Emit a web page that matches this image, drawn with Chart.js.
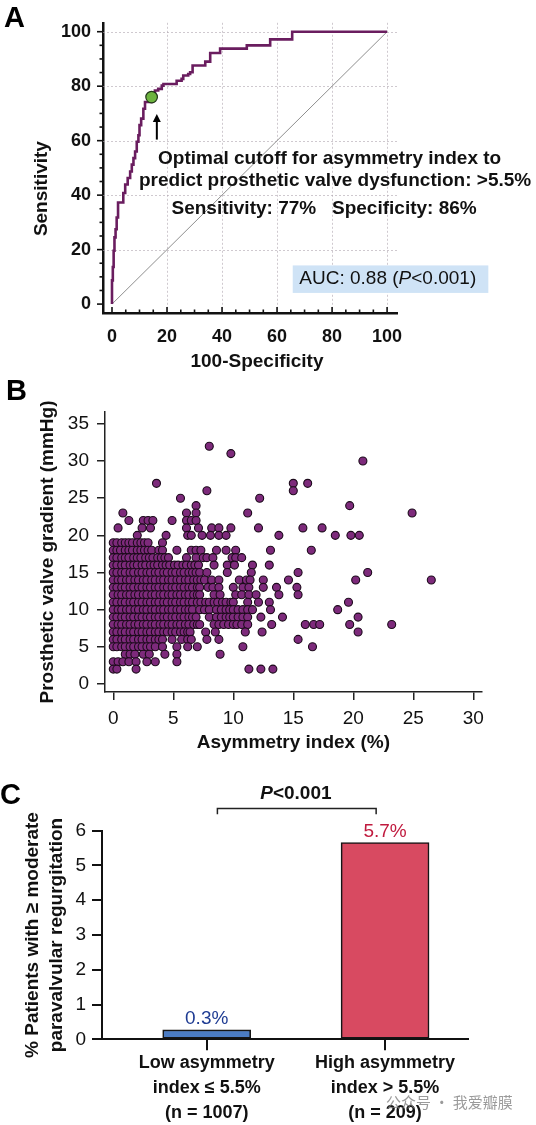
<!DOCTYPE html>
<html><head><meta charset="utf-8">
<script src="https://cdn.jsdelivr.net/npm/chart.js@4.4.1/dist/chart.umd.min.js"></script>
<style>
html,body{margin:0;padding:0;background:#fff;width:536px;height:1125px;overflow:hidden;position:relative;font-family:"Liberation Sans",Arial,sans-serif}
.wrap{position:absolute;left:0;width:536px}
.panel{position:absolute;font-weight:bold;font-size:29px;line-height:29px;color:#000;font-family:"Liberation Sans",Arial,sans-serif}
.wm{position:absolute;left:386px;top:1092px;font-family:"Noto Sans CJK SC",sans-serif;font-size:15px;line-height:20px;color:rgba(120,120,120,0.75);white-space:nowrap}
</style></head><body>
<div class="wrap" style="top:0;height:378px"><canvas id="ca" width="536" height="378"></canvas></div>
<div class="wrap" style="top:375px;height:390px"><canvas id="cb" width="536" height="390"></canvas></div>
<div class="wrap" style="top:765px;height:360px"><canvas id="cc" width="536" height="360"></canvas></div>
<div class="panel" style="left:4px;top:3px">A</div>
<div class="panel" style="left:6px;top:376px">B</div>
<div class="panel" style="left:0px;top:780px">C</div>
<div class="wm">公众号 · 我爱瓣膜</div>
<script>
// ---------- Panel A data (ROC curve) ----------
const rocFpr = [0,0.3,0.6,0.9,1.3,1.7,2.2,4.1,4.8,5.7,6.6,7.2,7.8,8.4,9.0,9.6,10.0,10.6,11.4,12.0,14.4,15.6,16.8,18.1,18.7,23.5,25.3,25.9,27.7,28.4,29.3,33.9,35.7,39.3,49.0,57.5,65.5,100];
const rocTpr = [0,8.7,13.6,19.6,24.5,27.5,31.8,37.3,40.8,43.9,46.3,48.7,51.2,53.6,56.0,59.6,62.0,65.7,68.1,71.7,74.2,77.2,78.4,79.0,80.2,80.8,82.0,82.7,83.9,84.5,85.1,87.6,89.0,92.2,93.8,95.0,97.2,100];
const refLineX = [0,100];
const refLineY = [0,100];
const cutoffX = 14.4, cutoffY = 76;
const ticksA = [0,20,40,60,80,100];

// ---------- Panel B data (scatter; gradient level -> asymmetry index values) ----------
const gradientLevels = [32,31,30,27,26,25,24,23,22,21,20,19,18,17,16,15,14,13,12,11,10,9,8,7,6,5,4,3,2];
const asymmetryAtLevel = [
 [8.0],
 [9.8],
 [20.8],
 [3.6,15.0,16.2],
 [7.8,15.0],
 [5.6,12.2],
 [6.9,19.7],
 [0.8,6.1,6.9,11.2,24.9],
 [1.3,2.5,2.9,3.3,4.9,6.1,6.5,6.9],
 [0.4,2.4,3.1,6.1,7.1,8.2,8.8,9.8,12.1,15.8,17.4],
 [2.0,4.4,6.2,6.5,7.4,8.1,8.8,9.4,13.8,18.5,19.8,20.5],
 [0,0.3,0.7,1.0,1.3,1.6,2.0,2.3,2.6,2.9,4.1],
 [0,0.3,0.6,1.0,1.3,1.6,2.0,2.3,2.6,2.9,3.2,3.8,4.1,5.3,6.5,6.9,7.3,8.6,9.4,10.2,13.1,16.5],
 [0,0.3,0.7,1.0,1.3,1.7,2.0,2.3,2.7,3.0,3.3,3.7,4.0,4.3,4.6,6.1,6.9,7.5,7.8,8.3,9.9,10.2,10.7],
 [0,0.3,0.7,1.0,1.4,1.7,2.0,2.4,2.7,3.1,3.4,3.7,4.1,4.4,4.7,5.1,5.4,5.8,6.1,6.5,6.8,7.1,8.4,9.5,10.1,11.6,13.0],
 [0,0.3,0.7,1.0,1.4,1.7,2.1,2.4,2.8,3.1,3.5,3.8,4.2,4.5,4.9,5.2,5.6,5.9,6.3,6.6,6.9,7.2,7.8,9.5,11.5,15.4,21.2],
 [0,0.4,0.7,1.1,1.4,1.8,2.1,2.5,2.8,3.2,3.5,3.9,4.2,4.6,4.9,5.3,5.6,6.0,6.3,6.7,7.0,7.3,7.6,8.2,8.8,10.5,11.1,11.4,12.5,14.6,20.2,26.5],
 [0,0.3,0.7,1.0,1.4,1.7,2.1,2.4,2.8,3.1,3.5,3.8,4.2,4.5,4.9,5.2,5.6,5.9,6.3,6.6,7.0,7.2,7.9,8.3,8.8,10.0,10.8,11.3,12.5,13.6,15.3],
 [0,0.4,0.7,1.1,1.4,1.8,2.1,2.5,2.8,3.2,3.5,3.9,4.2,4.6,4.9,5.3,5.6,6.0,6.3,6.7,7.0,7.2,8.4,8.9,10.2,10.7,11.3,11.9,13.8,15.4],
 [0,0.3,0.7,1.0,1.4,1.7,2.1,2.4,2.8,3.1,3.5,3.8,4.2,4.5,4.9,5.2,5.6,5.9,6.3,6.6,7.0,7.3,7.7,8.0,8.4,8.7,9.1,9.4,9.8,10.0,11.2,12.1,13.0,19.6],
 [0,0.4,0.7,1.1,1.4,1.8,2.1,2.5,2.8,3.2,3.5,3.9,4.2,4.6,4.9,5.3,5.6,6.0,6.3,6.6,7.2,7.6,8.0,8.6,9.0,9.4,9.7,10.0,10.4,10.8,11.2,11.6,13.1,18.7],
 [0,0.3,0.7,1.0,1.4,1.7,2.1,2.4,2.8,3.1,3.5,3.8,4.2,4.5,4.9,5.2,5.6,5.9,6.3,6.6,6.9,8.0,8.6,9.0,9.4,9.7,10.0,10.4,10.8,11.2,12.3,14.1,20.4],
 [0,0.4,0.7,1.1,1.4,1.8,2.1,2.5,2.8,3.2,3.5,3.9,4.2,4.6,4.9,5.3,5.6,6.0,6.3,6.7,7.0,7.2,8.4,8.8,9.2,9.6,10.0,10.3,10.7,11.2,13.2,16.0,16.7,17.2,19.7,23.2],
 [0,0.3,0.7,1.0,1.4,1.7,2.1,2.4,2.8,3.1,3.5,3.8,4.2,4.5,4.9,5.2,5.6,5.9,6.2,6.4,7.7,8.5,11.0,12.4,20.4],
 [0,0.3,0.7,1.0,1.4,1.7,2.1,2.4,2.8,3.1,3.5,3.8,4.1,4.9,5.7,6.2,6.5,7.8,8.8,15.4],
 [0,0.3,0.7,1.0,1.4,1.7,2.1,2.4,2.8,3.1,3.5,4.1,5.3,6.2,7.0,10.8,16.6],
 [1.0,1.4,1.8,2.5,3.0,4.3,5.3,8.9],
 [0,0.4,0.8,1.3,1.9,2.8,3.5,5.3],
 [0,0.3,1.9,11.3,12.3,13.3]
];
const ticksBx = [0,5,10,15,20,25,30];
const ticksBy = [0,5,10,15,20,25,30,35];

// ---------- Panel C data ----------
const groupPos = [0,1];
const groupLabels = [['Low asymmetry','index ≤ 5.5%','(n = 1007)'],['High asymmetry','index > 5.5%','(n = 209)']];
const pvrRates = [0.27,5.66];
const rateLabels = ['0.3%','5.7%'];
const barColors = ['#4b7cc4','#d84a61'];
const rateLabelColors = ['#1f3c93','#c01a3e'];
const ticksCy = [0,1,2,3,4,5,6];

const F = '"Liberation Sans", Arial, Helvetica, sans-serif';
const common = {responsive:false, animation:false, events:[], plugins:{legend:{display:false}, tooltip:{enabled:false}}};

// ================= PANEL A =================
const panelAPlugin = {
  id:'panelA',
  beforeDatasetsDraw(chart){
    const {ctx, chartArea:a, scales:{x,y}} = chart;
    ctx.save();
    ctx.strokeStyle='rgba(175,165,175,0.6)'; ctx.lineWidth=1; ctx.setLineDash([2,2]);
    ticksA.forEach(v=>{
      if(v===0) return;
      const px=Math.round(x.getPixelForValue(v))+0.5;
      ctx.beginPath(); ctx.moveTo(px,a.top); ctx.lineTo(px,a.bottom); ctx.stroke();
      const py=Math.round(y.getPixelForValue(v))+0.5;
      ctx.beginPath(); ctx.moveTo(a.left,py); ctx.lineTo(a.right,py); ctx.stroke();
    });
    ctx.restore();
  },
  afterDraw(chart){
    const {ctx, chartArea:a, scales:{x,y}} = chart;
    ctx.save();
    ctx.strokeStyle='#111'; ctx.lineWidth=1.6;
    for(let v=0; v<=100; v+=5){
      const major = v%20===0;
      const len = major?6:3.5;
      const px = x.getPixelForValue(v);
      ctx.beginPath(); ctx.moveTo(px,a.bottom); ctx.lineTo(px,a.bottom-len); ctx.stroke();
      const py = y.getPixelForValue(v);
      ctx.beginPath(); ctx.moveTo(a.left,py); ctx.lineTo(a.left-len,py); ctx.stroke();
    }
    // axis titles
    ctx.fillStyle='#111'; ctx.font='bold 19px '+F; ctx.textAlign='center'; ctx.textBaseline='middle';
    ctx.fillText('100-Specificity', x.getPixelForValue(52.7), a.bottom+49);
    ctx.save(); ctx.translate(42, y.getPixelForValue(42.4)); ctx.rotate(-Math.PI/2);
    ctx.fillText('Sensitivity', 0, 0); ctx.restore();
    // arrow
    const ax = x.getPixelForValue(16.3), ay1 = y.getPixelForValue(60.4), ay2 = y.getPixelForValue(69.8);
    ctx.strokeStyle='#000'; ctx.lineWidth=2;
    ctx.beginPath(); ctx.moveTo(ax,ay1); ctx.lineTo(ax,ay2+5); ctx.stroke();
    ctx.fillStyle='#000';
    ctx.beginPath(); ctx.moveTo(ax,ay2); ctx.lineTo(ax-4,ay2+8); ctx.lineTo(ax+4,ay2+8); ctx.closePath(); ctx.fill();
    // annotation text
    ctx.fillStyle='#111'; ctx.textAlign='center'; ctx.textBaseline='alphabetic';
    ctx.font='bold 19px '+F;
    ctx.fillText('Optimal cutoff for asymmetry index to', x.getPixelForValue(79.1), y.getPixelForValue(51.3));
    ctx.fillText('predict prosthetic valve dysfunction: >5.5%', x.getPixelForValue(81.1), y.getPixelForValue(43.3));
    ctx.fillText('Sensitivity: 77%   Specificity: 86%', x.getPixelForValue(77.1), y.getPixelForValue(33.1));
    // AUC box
    const bx1=x.getPixelForValue(65.7), bx2=x.getPixelForValue(136.8), by1=y.getPixelForValue(14.2), by2=y.getPixelForValue(4.1);
    ctx.fillStyle='#cfe3f6'; ctx.fillRect(bx1,by1,bx2-bx1,by2-by1);
    ctx.fillStyle='#111'; ctx.textAlign='left';
    let tx = x.getPixelForValue(68.1); const ty = y.getPixelForValue(7.3);
    const parts=[['AUC: 0.88 (',''],['P','italic '],['<0.001)','']];
    parts.forEach(p=>{ ctx.font=p[1]+'19px '+F; ctx.fillText(p[0],tx,ty); tx+=ctx.measureText(p[0]).width; });
    ctx.restore();
  }
};

new Chart(document.getElementById('ca'), {
  type:'scatter',
  data:{datasets:[
    {type:'line', data:refLineX.map((v,i)=>({x:v,y:refLineY[i]})), borderColor:'#8e8e8e', borderWidth:1, pointRadius:0, order:3},
    {type:'line', data:rocFpr.map((v,i)=>({x:v,y:rocTpr[i]})), stepped:'after', borderColor:'#6a1d5f', borderWidth:2.6, pointRadius:0, order:2},
    {data:[{x:cutoffX,y:cutoffY}], pointRadius:5.8, backgroundColor:'#6db33f', borderColor:'#22361a', borderWidth:1.2, order:1}
  ]},
  options:Object.assign({}, common, {
    layout:{padding:{left:0,top:20,right:139,bottom:0}},
    scales:{
      x:{type:'linear', min:-3.27, max:103.6,
        afterBuildTicks:s=>{s.ticks=ticksA.map(v=>({value:v}));}, afterFit:s=>{s.height=65;},
        grid:{display:false, drawTicks:false}, border:{display:true,color:'#111',width:2.5},
        ticks:{padding:13, color:'#111', font:{family:F,size:18,weight:'bold'}, maxRotation:0, autoSkip:false},
        title:{display:false}},
      y:{type:'linear', min:-3.27, max:103.27,
        afterBuildTicks:s=>{s.ticks=ticksA.map(v=>({value:v}));}, afterFit:s=>{s.width=103;},
        grid:{display:false, drawTicks:false}, border:{display:true,color:'#111',width:2.5},
        ticks:{padding:12, color:'#111', font:{family:F,size:18,weight:'bold'}, autoSkip:false},
        title:{display:false}}
    }
  }),
  plugins:[panelAPlugin]
});

// ================= PANEL B =================
const scatterPts = [];
gradientLevels.forEach((g,i)=>asymmetryAtLevel[i].forEach(a=>scatterPts.push({x:a,y:g})));

new Chart(document.getElementById('cb'), {
  type:'scatter',
  data:{datasets:[{data:scatterPts, pointRadius:4, backgroundColor:'#7d2a7b', borderColor:'#1c0b1b', borderWidth:1.1}]},
  options:Object.assign({}, common, {
    layout:{padding:{left:0,top:37,right:54.3,bottom:0}},
    scales:{
      x:{type:'linear', min:-0.69, max:30.7,
        afterBuildTicks:s=>{s.ticks=ticksBx.map(v=>({value:v}));}, afterFit:s=>{s.height=73;},
        grid:{display:true, drawOnChartArea:false, drawTicks:true, tickLength:8, color:'#222', lineWidth:1.5},
        border:{display:true,color:'#222',width:1.5},
        ticks:{padding:7, color:'#111', font:{family:F,size:19}, maxRotation:0, autoSkip:false},
        title:{display:true, text:'Asymmetry index (%)', color:'#111', font:{family:F,size:19,weight:'bold'}, padding:{top:0,bottom:10.6}}},
      y:{type:'linear', min:-1.08, max:36.6,
        afterBuildTicks:s=>{s.ticks=ticksBy.map(v=>({value:v}));}, afterFit:s=>{s.width=105;},
        grid:{display:true, drawOnChartArea:false, drawTicks:true, tickLength:8, color:'#222', lineWidth:1.5},
        border:{display:true,color:'#222',width:1.5},
        ticks:{padding:8, color:'#111', font:{family:F,size:19}, autoSkip:false},
        title:{display:true, text:'Prosthetic valve gradient (mmHg)', color:'#111', font:{family:F,size:19,weight:'bold'}, padding:{top:36.6,bottom:0}}}
    }
  })
});

// ================= PANEL C =================
const panelCPlugin = {
  id:'panelC',
  afterDatasetsDraw(chart){
    const {ctx, scales:{x,y}} = chart;
    ctx.save();
    ctx.textAlign='center'; ctx.textBaseline='alphabetic';
    ctx.font='19px '+F;
    groupPos.forEach((g,i)=>{
      ctx.fillStyle=rateLabelColors[i];
      ctx.fillText(rateLabels[i], x.getPixelForValue(g), y.getPixelForValue(pvrRates[i])-6);
    });
    // bracket
    const x1=x.getPixelForValue(0.06), x2=x.getPixelForValue(0.95), yb=y.getPixelForValue(6.64), ye=y.getPixelForValue(6.47);
    ctx.strokeStyle='#222'; ctx.lineWidth=1.5;
    ctx.beginPath(); ctx.moveTo(x1,ye); ctx.lineTo(x1,yb); ctx.lineTo(x2,yb); ctx.lineTo(x2,ye); ctx.stroke();
    // P text
    const ty=y.getPixelForValue(6.9);
    ctx.fillStyle='#111';
    ctx.font='italic bold 19px '+F; const w1=ctx.measureText('P').width;
    ctx.font='bold 19px '+F; const w2=ctx.measureText('<0.001').width;
    let tx=x.getPixelForValue(0.5)-(w1+w2)/2;
    ctx.textAlign='left';
    ctx.font='italic bold 19px '+F; ctx.fillText('P',tx,ty);
    ctx.font='bold 19px '+F; ctx.fillText('<0.001',tx+w1,ty);
    ctx.restore();
  }
};

new Chart(document.getElementById('cc'), {
  type:'bar',
  data:{datasets:[{data:groupPos.map((g,i)=>({x:g,y:pvrRates[i]})), backgroundColor:barColors, borderColor:'#151515', borderWidth:1.6, borderSkipped:false, barThickness:88}]},
  options:Object.assign({}, common, {
    layout:{padding:{left:0,top:65.7,right:68,bottom:0}},
    scales:{
      x:{type:'linear', min:-0.587, max:1.465, offset:false,
        afterBuildTicks:s=>{s.ticks=groupPos.map(v=>({value:v}));}, afterFit:s=>{s.height=85.7;},
        grid:{display:true, offset:false, drawOnChartArea:false, drawTicks:true, tickLength:11, color:'#111', lineWidth:2},
        border:{display:true,color:'#111',width:2},
        ticks:{padding:0, color:'#111', font:{family:F,size:18,weight:'bold',lineHeight:1.39}, maxRotation:0, autoSkip:false,
          callback:(v)=>groupLabels[groupPos.indexOf(v)]}},
      y:{type:'linear', min:0, max:6,
        afterBuildTicks:s=>{s.ticks=ticksCy.map(v=>({value:v}));}, afterFit:s=>{s.width=102;},
        grid:{display:true, drawOnChartArea:false, drawTicks:true, tickLength:10, color:'#111', lineWidth:2},
        border:{display:true,color:'#111',width:2},
        ticks:{padding:6, color:'#111', font:{family:F,size:19}, autoSkip:false},
        title:{display:true, text:['% Patients with ≥ moderate','paravalvular regurgitation'], color:'#111', font:{family:F,size:19,weight:'bold',lineHeight:1.263}, padding:{top:21,bottom:0}}}
    }
  }),
  plugins:[panelCPlugin]
});
</script>
</body></html>
